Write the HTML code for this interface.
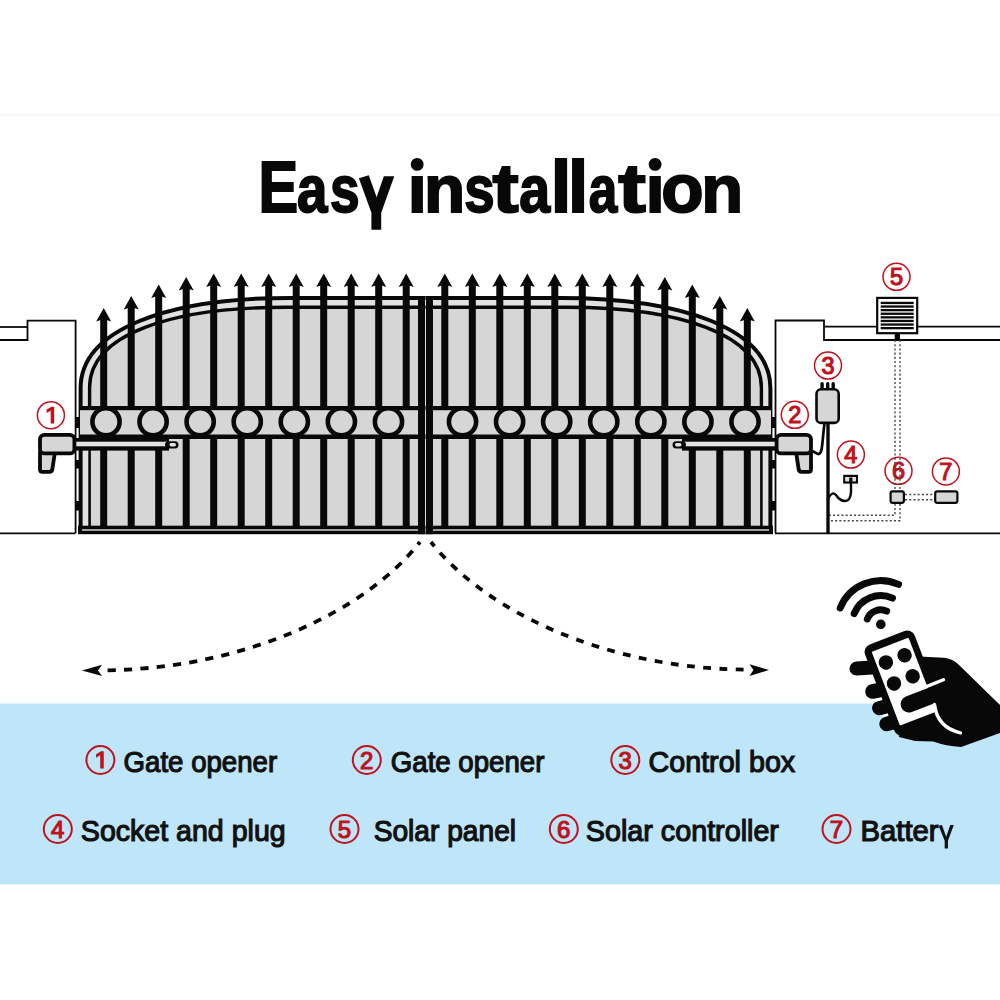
<!DOCTYPE html>
<html><head><meta charset="utf-8"><title>Easy installation</title>
<style>
html,body{margin:0;padding:0;background:#fff;}
body{width:1000px;height:1000px;overflow:hidden;font-family:"Liberation Sans", sans-serif;}
svg{display:block;}
</style></head>
<body>
<svg width="1000" height="1000" viewBox="0 0 1000 1000">
<rect x="0" y="703.5" width="1000" height="181" fill="#bee5f8"/>
<rect x="0" y="114" width="1000" height="1.5" fill="#f6f6f6"/>
<polyline points="0,340 27.5,340 27.5,320.6 75.6,320.6 75.6,533.3" fill="none" stroke="#080808" stroke-width="1.8"/>
<line x1="0" y1="327" x2="27.5" y2="327" stroke="#080808" stroke-width="1.8"/>
<line x1="0" y1="533.3" x2="75.5" y2="533.3" stroke="#080808" stroke-width="1.8"/>
<polyline points="775.5,533.3 775.5,320.5 824,320.5 824,340 1000,340" fill="none" stroke="#080808" stroke-width="1.8"/>
<line x1="824" y1="326.7" x2="1000" y2="326.7" stroke="#080808" stroke-width="1.8"/>
<line x1="775" y1="533.3" x2="1000" y2="533.3" stroke="#080808" stroke-width="1.8"/>
<g><path d="M80.6,534 L80.6,388.2 C80.6,329.4 167.7,297.9 290.7,297.9 L425.5,297.9 L425.5,534 Z" fill="#e2e2e2"/><path d="M89.6,534 L89.6,387.6 C89.6,334 172.4,307.3 284.5,307.3 L425.5,307.3 L425.5,534 Z" fill="#d6d6d6"/><rect x="80" y="441" width="10" height="90" fill="#e2e2e2"/><rect x="100.2" y="318" width="7" height="210" fill="#080808"/><polygon points="103.7,308 111.2,321.5 106.7,320 100.7,320 96.2,321.5" fill="#080808"/><rect x="127.7" y="306" width="7" height="222" fill="#080808"/><polygon points="131.2,296 138.7,309.5 134.2,308 128.2,308 123.7,309.5" fill="#080808"/><rect x="155.2" y="294.5" width="7" height="233.5" fill="#080808"/><polygon points="158.7,284.5 166.2,298 161.7,296.5 155.7,296.5 151.2,298" fill="#080808"/><rect x="182.7" y="287" width="7" height="241" fill="#080808"/><polygon points="186.2,277 193.7,290.5 189.2,289 183.2,289 178.7,290.5" fill="#080808"/><rect x="210.2" y="283.5" width="7" height="244.5" fill="#080808"/><polygon points="213.7,273.5 221.2,287 216.7,285.5 210.7,285.5 206.2,287" fill="#080808"/><rect x="237.7" y="283.5" width="7" height="244.5" fill="#080808"/><polygon points="241.2,273.5 248.7,287 244.2,285.5 238.2,285.5 233.7,287" fill="#080808"/><rect x="265.2" y="283.5" width="7" height="244.5" fill="#080808"/><polygon points="268.7,273.5 276.2,287 271.7,285.5 265.7,285.5 261.2,287" fill="#080808"/><rect x="292.7" y="283.5" width="7" height="244.5" fill="#080808"/><polygon points="296.2,273.5 303.7,287 299.2,285.5 293.2,285.5 288.7,287" fill="#080808"/><rect x="320.2" y="283.5" width="7" height="244.5" fill="#080808"/><polygon points="323.7,273.5 331.2,287 326.7,285.5 320.7,285.5 316.2,287" fill="#080808"/><rect x="347.7" y="283.5" width="7" height="244.5" fill="#080808"/><polygon points="351.2,273.5 358.7,287 354.2,285.5 348.2,285.5 343.7,287" fill="#080808"/><rect x="375.2" y="283.5" width="7" height="244.5" fill="#080808"/><polygon points="378.7,273.5 386.2,287 381.7,285.5 375.7,285.5 371.2,287" fill="#080808"/><rect x="402.7" y="283.5" width="7" height="244.5" fill="#080808"/><polygon points="406.2,273.5 413.7,287 409.2,285.5 403.2,285.5 398.7,287" fill="#080808"/><path d="M80.6,534 L80.6,388.2 C80.6,329.4 167.7,297.9 290.7,297.9 L425.5,297.9" fill="none" stroke="#080808" stroke-width="4"/><path d="M89.6,406 L89.6,387.6 C89.6,334 172.4,307.3 284.5,307.3 L425.5,307.3" fill="none" stroke="#080808" stroke-width="3.4"/><line x1="89.6" y1="440" x2="89.6" y2="527" stroke="#080808" stroke-width="2.6"/><rect x="80" y="406.5" width="345.5" height="32.5" fill="#d6d6d6"/><rect x="80" y="406" width="345.5" height="4.2" fill="#080808"/><rect x="80" y="434.5" width="345.5" height="4.5" fill="#080808"/><circle cx="106" cy="421.8" r="13.6" fill="#d6d6d6" stroke="#080808" stroke-width="4.6"/><circle cx="153.08" cy="421.8" r="13.6" fill="#d6d6d6" stroke="#080808" stroke-width="4.6"/><circle cx="200.16" cy="421.8" r="13.6" fill="#d6d6d6" stroke="#080808" stroke-width="4.6"/><circle cx="247.24" cy="421.8" r="13.6" fill="#d6d6d6" stroke="#080808" stroke-width="4.6"/><circle cx="294.32" cy="421.8" r="13.6" fill="#d6d6d6" stroke="#080808" stroke-width="4.6"/><circle cx="341.4" cy="421.8" r="13.6" fill="#d6d6d6" stroke="#080808" stroke-width="4.6"/><circle cx="388.48" cy="421.8" r="13.6" fill="#d6d6d6" stroke="#080808" stroke-width="4.6"/><rect x="78" y="525.7" width="347.5" height="8.5" fill="#080808"/><rect x="82" y="529.3" width="343.5" height="1.4" fill="#e2e2e2"/><rect x="418" y="296" width="7" height="238.2" fill="#080808"/><rect x="75" y="417" width="5" height="11" fill="#080808"/><rect x="75" y="460" width="5" height="8.5" fill="#080808"/><rect x="75" y="501" width="5" height="9.5" fill="#080808"/></g>
<g transform="translate(851,0) scale(-1,1)"><path d="M80.6,534 L80.6,388.2 C80.6,329.4 167.7,297.9 290.7,297.9 L425.5,297.9 L425.5,534 Z" fill="#e2e2e2"/><path d="M89.6,534 L89.6,387.6 C89.6,334 172.4,307.3 284.5,307.3 L425.5,307.3 L425.5,534 Z" fill="#d6d6d6"/><rect x="80" y="441" width="10" height="90" fill="#e2e2e2"/><rect x="100.2" y="318" width="7" height="210" fill="#080808"/><polygon points="103.7,308 111.2,321.5 106.7,320 100.7,320 96.2,321.5" fill="#080808"/><rect x="127.7" y="306" width="7" height="222" fill="#080808"/><polygon points="131.2,296 138.7,309.5 134.2,308 128.2,308 123.7,309.5" fill="#080808"/><rect x="155.2" y="294.5" width="7" height="233.5" fill="#080808"/><polygon points="158.7,284.5 166.2,298 161.7,296.5 155.7,296.5 151.2,298" fill="#080808"/><rect x="182.7" y="287" width="7" height="241" fill="#080808"/><polygon points="186.2,277 193.7,290.5 189.2,289 183.2,289 178.7,290.5" fill="#080808"/><rect x="210.2" y="283.5" width="7" height="244.5" fill="#080808"/><polygon points="213.7,273.5 221.2,287 216.7,285.5 210.7,285.5 206.2,287" fill="#080808"/><rect x="237.7" y="283.5" width="7" height="244.5" fill="#080808"/><polygon points="241.2,273.5 248.7,287 244.2,285.5 238.2,285.5 233.7,287" fill="#080808"/><rect x="265.2" y="283.5" width="7" height="244.5" fill="#080808"/><polygon points="268.7,273.5 276.2,287 271.7,285.5 265.7,285.5 261.2,287" fill="#080808"/><rect x="292.7" y="283.5" width="7" height="244.5" fill="#080808"/><polygon points="296.2,273.5 303.7,287 299.2,285.5 293.2,285.5 288.7,287" fill="#080808"/><rect x="320.2" y="283.5" width="7" height="244.5" fill="#080808"/><polygon points="323.7,273.5 331.2,287 326.7,285.5 320.7,285.5 316.2,287" fill="#080808"/><rect x="347.7" y="283.5" width="7" height="244.5" fill="#080808"/><polygon points="351.2,273.5 358.7,287 354.2,285.5 348.2,285.5 343.7,287" fill="#080808"/><rect x="375.2" y="283.5" width="7" height="244.5" fill="#080808"/><polygon points="378.7,273.5 386.2,287 381.7,285.5 375.7,285.5 371.2,287" fill="#080808"/><rect x="402.7" y="283.5" width="7" height="244.5" fill="#080808"/><polygon points="406.2,273.5 413.7,287 409.2,285.5 403.2,285.5 398.7,287" fill="#080808"/><path d="M80.6,534 L80.6,388.2 C80.6,329.4 167.7,297.9 290.7,297.9 L425.5,297.9" fill="none" stroke="#080808" stroke-width="4"/><path d="M89.6,406 L89.6,387.6 C89.6,334 172.4,307.3 284.5,307.3 L425.5,307.3" fill="none" stroke="#080808" stroke-width="3.4"/><line x1="89.6" y1="440" x2="89.6" y2="527" stroke="#080808" stroke-width="2.6"/><rect x="80" y="406.5" width="345.5" height="32.5" fill="#d6d6d6"/><rect x="80" y="406" width="345.5" height="4.2" fill="#080808"/><rect x="80" y="434.5" width="345.5" height="4.5" fill="#080808"/><circle cx="106" cy="421.8" r="13.6" fill="#d6d6d6" stroke="#080808" stroke-width="4.6"/><circle cx="153.08" cy="421.8" r="13.6" fill="#d6d6d6" stroke="#080808" stroke-width="4.6"/><circle cx="200.16" cy="421.8" r="13.6" fill="#d6d6d6" stroke="#080808" stroke-width="4.6"/><circle cx="247.24" cy="421.8" r="13.6" fill="#d6d6d6" stroke="#080808" stroke-width="4.6"/><circle cx="294.32" cy="421.8" r="13.6" fill="#d6d6d6" stroke="#080808" stroke-width="4.6"/><circle cx="341.4" cy="421.8" r="13.6" fill="#d6d6d6" stroke="#080808" stroke-width="4.6"/><circle cx="388.48" cy="421.8" r="13.6" fill="#d6d6d6" stroke="#080808" stroke-width="4.6"/><rect x="78" y="525.7" width="347.5" height="8.5" fill="#080808"/><rect x="82" y="529.3" width="343.5" height="1.4" fill="#e2e2e2"/><rect x="418" y="296" width="7" height="238.2" fill="#080808"/><rect x="75" y="417" width="5" height="11" fill="#080808"/><rect x="75" y="460" width="5" height="8.5" fill="#080808"/><rect x="75" y="501" width="5" height="9.5" fill="#080808"/></g>
<g><rect x="72" y="438" width="97" height="12.6" fill="#080808"/><rect x="74" y="441.7" width="93.5" height="4.6" fill="#e2e2e2"/><rect x="165" y="441.2" width="13.5" height="7.2" rx="3.6" fill="#080808"/><rect x="169.5" y="443" width="6.5" height="3.4" rx="1.7" fill="#e2e2e2"/><path d="M40,452 L40,469.5 Q40,471.8 42.5,471.8 L49.5,471.8 Q51.8,471.8 52.3,469.5 L54.5,455 L54.5,452 Z" fill="#d6d6d6" stroke="#080808" stroke-width="3.8" stroke-linejoin="round"/><rect x="40" y="434.8" width="34.4" height="18.6" rx="4.5" fill="#d6d6d6" stroke="#080808" stroke-width="3.8"/></g>
<g transform="translate(851,0) scale(-1,1)"><rect x="72" y="438" width="97" height="12.6" fill="#080808"/><rect x="74" y="441.7" width="93.5" height="4.6" fill="#e2e2e2"/><rect x="165" y="441.2" width="13.5" height="7.2" rx="3.6" fill="#080808"/><rect x="169.5" y="443" width="6.5" height="3.4" rx="1.7" fill="#e2e2e2"/><path d="M40,452 L40,469.5 Q40,471.8 42.5,471.8 L49.5,471.8 Q51.8,471.8 52.3,469.5 L54.5,455 L54.5,452 Z" fill="#d6d6d6" stroke="#080808" stroke-width="3.8" stroke-linejoin="round"/><rect x="40" y="434.8" width="34.4" height="18.6" rx="4.5" fill="#d6d6d6" stroke="#080808" stroke-width="3.8"/></g>
<circle cx="50.9" cy="415.2" r="13.5" fill="none" stroke="#c0121c" stroke-width="1.5"/><g transform="translate(50.9,423.6) scale(0.967)"><path d="M-0.2,0 L3.4,0 L3.4,-17.5 L0.6,-17.5 L-4.4,-14.6 L-4.4,-11 L-0.2,-13.4 Z" fill="#c0121c"/></g>
<circle cx="794.8" cy="414.8" r="13.5" fill="none" stroke="#c0121c" stroke-width="1.5"/><text x="794.8" y="423.2" font-family="Liberation Sans, sans-serif" font-weight="normal" font-size="23.5" fill="#c0121c" stroke="#c0121c" stroke-width="1.15" text-anchor="middle">2</text>
<circle cx="828" cy="365.6" r="13.5" fill="none" stroke="#c0121c" stroke-width="1.5"/><text x="828" y="374" font-family="Liberation Sans, sans-serif" font-weight="normal" font-size="23.5" fill="#c0121c" stroke="#c0121c" stroke-width="1.15" text-anchor="middle">3</text>
<circle cx="850.9" cy="454.6" r="13.5" fill="none" stroke="#c0121c" stroke-width="1.5"/><text x="850.9" y="463" font-family="Liberation Sans, sans-serif" font-weight="normal" font-size="23.5" fill="#c0121c" stroke="#c0121c" stroke-width="1.15" text-anchor="middle">4</text>
<circle cx="896.5" cy="276.8" r="13.5" fill="none" stroke="#c0121c" stroke-width="1.5"/><text x="896.5" y="285.2" font-family="Liberation Sans, sans-serif" font-weight="normal" font-size="23.5" fill="#c0121c" stroke="#c0121c" stroke-width="1.15" text-anchor="middle">5</text>
<circle cx="898.5" cy="470.8" r="13.5" fill="none" stroke="#c0121c" stroke-width="1.5"/><text x="898.5" y="479.2" font-family="Liberation Sans, sans-serif" font-weight="normal" font-size="23.5" fill="#c0121c" stroke="#c0121c" stroke-width="1.15" text-anchor="middle">6</text>
<circle cx="945.9" cy="471.4" r="13.5" fill="none" stroke="#c0121c" stroke-width="1.5"/><text x="945.9" y="479.8" font-family="Liberation Sans, sans-serif" font-weight="normal" font-size="23.5" fill="#c0121c" stroke="#c0121c" stroke-width="1.15" text-anchor="middle">7</text>
<path d="M895,340 L895,490.5 M895,503.7 L895,515.2 L829,515.2" fill="none" stroke="#4a4a4a" stroke-width="1.4" stroke-dasharray="2.1,2.1"/>
<path d="M900,340 L900,520.8 L829,520.8" fill="none" stroke="#4a4a4a" stroke-width="1.4" stroke-dasharray="2.1,2.1"/>
<path d="M905,494.5 L934,494.5 M905,499.8 L934,499.8" fill="none" stroke="#4a4a4a" stroke-width="1.4" stroke-dasharray="2.1,2.1"/>
<rect x="877.2" y="297.9" width="40" height="35.3" fill="#fff" stroke="#080808" stroke-width="2.2"/>
<rect x="880.7" y="301.8" width="33" height="2.3" fill="#080808"/>
<rect x="880.7" y="305.4" width="33" height="2.3" fill="#080808"/>
<rect x="880.7" y="309" width="33" height="2.3" fill="#080808"/>
<rect x="880.7" y="312.6" width="33" height="2.3" fill="#080808"/>
<rect x="880.7" y="316.2" width="33" height="2.3" fill="#080808"/>
<rect x="880.7" y="319.8" width="33" height="2.3" fill="#080808"/>
<rect x="880.7" y="323.4" width="33" height="2.3" fill="#080808"/>
<rect x="880.7" y="327" width="33" height="2.3" fill="#080808"/>
<rect x="894.7" y="334" width="5.3" height="6" fill="#080808"/>
<rect x="820.4" y="382" width="3.4" height="7.5" rx="1.7" fill="#080808"/><rect x="826" y="382" width="3.4" height="7.5" rx="1.7" fill="#080808"/><rect x="831.5" y="382" width="3.4" height="7.5" rx="1.7" fill="#080808"/>
<path d="M824.5,424 C822,440 823,455 818,454 L812,451" fill="none" stroke="#080808" stroke-width="2.7"/>
<rect x="816.5" y="389.3" width="22.2" height="33.6" rx="4.5" fill="#d6d6d6" stroke="#080808" stroke-width="2.6"/>
<line x1="828" y1="423" x2="828" y2="534" stroke="#080808" stroke-width="3.4"/>
<path d="M851,483 L851,492 Q850.5,501 845,501 Q840,501 836,495 Q832,491 828.5,498" fill="none" stroke="#080808" stroke-width="2.4"/>
<rect x="844.3" y="475.9" width="12.6" height="6.6" fill="#fff" stroke="#080808" stroke-width="2.2"/>
<rect x="845.5" y="477" width="10" height="4" fill="#e2e2e2"/>
<rect x="849.2" y="477.5" width="3.2" height="5" fill="#080808"/>
<rect x="890.6" y="491.4" width="13.3" height="11.4" rx="2" fill="#d6d6d6" stroke="#080808" stroke-width="2.2"/>
<rect x="935.2" y="491.4" width="22.2" height="11.4" rx="2" fill="#d6d6d6" stroke="#080808" stroke-width="2.2"/>
<path d="M107.6,670.3 C245,668 365,612 420,542" fill="none" stroke="#080808" stroke-width="3.8" stroke-dasharray="8.2,8.2"/>
<polygon points="82,670.4 102,664.8 98,670.4 102,676" fill="#080808"/>
<path d="M743.6,669.6 C606,668 486,612 431,542" fill="none" stroke="#080808" stroke-width="3.8" stroke-dasharray="7.8,8.5"/>
<polygon points="769,670.1 749.5,664.2 753.4,670.1 749.5,676" fill="#080808"/>
<circle cx="880.8" cy="624.4" r="4.8" fill="#080808"/><path d="M867.26,618.93 A14.6,14.6 0 0 1 886.74,611.06" fill="none" stroke="#080808" stroke-width="6.9" stroke-linecap="round"/><path d="M854.1,613.61 A28.8,28.8 0 0 1 892.51,598.09" fill="none" stroke="#080808" stroke-width="6.9" stroke-linecap="round"/><path d="M840.19,607.99 A43.8,43.8 0 0 1 898.62,584.39" fill="none" stroke="#080808" stroke-width="6.9" stroke-linecap="round"/><line x1="856.5" y1="668.5" x2="880" y2="667" stroke="#080808" stroke-width="14" stroke-linecap="round"/><line x1="872.5" y1="691.5" x2="890" y2="688" stroke="#080808" stroke-width="14.6" stroke-linecap="round"/><line x1="879.3" y1="708" x2="896" y2="704.5" stroke="#080808" stroke-width="14.4" stroke-linecap="round"/><line x1="886.5" y1="724" x2="902" y2="720" stroke="#080808" stroke-width="14.4" stroke-linecap="round"/><line x1="876" y1="700.6" x2="885" y2="697.2" stroke="#fff" stroke-width="2.2" stroke-linecap="round"/><line x1="882.5" y1="716.4" x2="891" y2="713" stroke="#fff" stroke-width="2.2" stroke-linecap="round"/><path d="M912,648 L919,656.5 L944,657.8 Q952,658.5 958,664 L1000,705 L1000,733 L961,747 Q946,746 933,741.5 L915,741 L899,737 Z" fill="#080808"/><g transform="translate(863.7,647.9) rotate(-21)"><rect x="-1.1" y="-1.1" width="53.2" height="97.5" rx="8" fill="#080808"/><rect x="6" y="6.5" width="39.5" height="79" rx="1" fill="#fff"/><circle cx="15.5" cy="21.5" r="7.2" fill="#080808"/><circle cx="35.5" cy="21.5" r="7.2" fill="#080808"/><circle cx="15.5" cy="44" r="7.2" fill="#080808"/><circle cx="35.5" cy="44" r="7.2" fill="#080808"/><line x1="40" y1="58.8" x2="63" y2="58.3" stroke="#fff" stroke-width="3.5" stroke-linecap="round"/><path d="M22,60.5 L70,60.5 L70,77 L22,77 A8.25,8.25 0 0 1 22,60.5 Z" fill="#080808"/></g><path d="M934.5,704.5 C936,718 944,729 960.5,732.8" fill="none" stroke="#fff" stroke-width="3.4" stroke-linecap="round"/>
<text transform="translate(258.45,211.79) scale(0.8381,1.0108)" x="0" y="0" font-family="Liberation Sans, sans-serif" font-weight="bold" font-size="71" fill="#080808" stroke="#080808" stroke-width="2">E</text><text transform="translate(296.93,211.64) scale(0.7700,0.9317)" x="0" y="0" font-family="Liberation Sans, sans-serif" font-weight="bold" font-size="71" fill="#080808" stroke="#080808" stroke-width="2">a</text><text transform="translate(329.95,211.64) scale(0.7514,0.9317)" x="0" y="0" font-family="Liberation Sans, sans-serif" font-weight="bold" font-size="71" fill="#080808" stroke="#080808" stroke-width="2">s</text><text transform="translate(424,211.66) scale(0.9500,0.9400)" x="0" y="0" font-family="Liberation Sans, sans-serif" font-weight="bold" font-size="71" fill="#080808" stroke="#080808" stroke-width="2">n</text><text transform="translate(464.13,211.64) scale(0.7703,0.9317)" x="0" y="0" font-family="Liberation Sans, sans-serif" font-weight="bold" font-size="71" fill="#080808" stroke="#080808" stroke-width="2">s</text><text transform="translate(492.4,211.58) scale(1.1083,0.9592)" x="0" y="0" font-family="Liberation Sans, sans-serif" font-weight="bold" font-size="71" fill="#080808" stroke="#080808" stroke-width="2">t</text><text transform="translate(519.22,211.64) scale(0.7825,0.9317)" x="0" y="0" font-family="Liberation Sans, sans-serif" font-weight="bold" font-size="71" fill="#080808" stroke="#080808" stroke-width="2">a</text><text transform="translate(550.83,211.58) scale(1.0417,1.0208)" x="0" y="0" font-family="Liberation Sans, sans-serif" font-weight="bold" font-size="71" fill="#080808" stroke="#080808" stroke-width="2">l</text><text transform="translate(568.1,211.58) scale(1.0250,1.0208)" x="0" y="0" font-family="Liberation Sans, sans-serif" font-weight="bold" font-size="71" fill="#080808" stroke="#080808" stroke-width="2">l</text><text transform="translate(588.68,211.64) scale(0.7225,0.9317)" x="0" y="0" font-family="Liberation Sans, sans-serif" font-weight="bold" font-size="71" fill="#080808" stroke="#080808" stroke-width="2">a</text><text transform="translate(618.3,211.58) scale(1.1667,0.9592)" x="0" y="0" font-family="Liberation Sans, sans-serif" font-weight="bold" font-size="71" fill="#080808" stroke="#080808" stroke-width="2">t</text><text transform="translate(661.34,211.79) scale(0.9775,0.9561)" x="0" y="0" font-family="Liberation Sans, sans-serif" font-weight="bold" font-size="71" fill="#080808" stroke="#080808" stroke-width="2">o</text><text transform="translate(701.13,211.66) scale(0.9667,0.9400)" x="0" y="0" font-family="Liberation Sans, sans-serif" font-weight="bold" font-size="71" fill="#080808" stroke="#080808" stroke-width="2">n</text><path d="M358.9,178.3 L368.78,175.3 L376.64,197.15 L383.82,176.28 L394.3,176.28 L381.2,212.85 L381.2,229.8 L371.4,229.8 L371.4,212.85 Z" fill="#080808"/><rect x="411.6" y="176" width="11.3" height="37" fill="#080808"/><circle cx="417.2" cy="164.4" r="6.4" fill="#080808"/><rect x="649.5" y="176" width="11.3" height="37" fill="#080808"/><circle cx="655.1" cy="164.4" r="6.4" fill="#080808"/>
<text transform="translate(123.58,772) scale(0.9211,1)" x="0" y="0" font-family="Liberation Sans, sans-serif" font-weight="normal" font-size="30" fill="#111" stroke="#111" stroke-width="1.2" letter-spacing="0">Gate opener</text><text transform="translate(390.78,772) scale(0.9211,1)" x="0" y="0" font-family="Liberation Sans, sans-serif" font-weight="normal" font-size="30" fill="#111" stroke="#111" stroke-width="1.2" letter-spacing="0">Gate opener</text><text transform="translate(648.54,772) scale(0.9562,1)" x="0" y="0" font-family="Liberation Sans, sans-serif" font-weight="normal" font-size="30" fill="#111" stroke="#111" stroke-width="1.2" letter-spacing="0">Control box</text><text transform="translate(80.85,840.7) scale(0.9521,1)" x="0" y="0" font-family="Liberation Sans, sans-serif" font-weight="normal" font-size="30" fill="#111" stroke="#111" stroke-width="1.2" letter-spacing="0">Socket and plug</text><text transform="translate(373.66,840.7) scale(0.9389,1)" x="0" y="0" font-family="Liberation Sans, sans-serif" font-weight="normal" font-size="30" fill="#111" stroke="#111" stroke-width="1.2" letter-spacing="0">Solar panel</text><text transform="translate(585.84,840.7) scale(0.9572,1)" x="0" y="0" font-family="Liberation Sans, sans-serif" font-weight="normal" font-size="30" fill="#111" stroke="#111" stroke-width="1.2" letter-spacing="0">Solar controller</text><text transform="translate(860.55,840.7) scale(0.9744,1)" x="0" y="0" font-family="Liberation Sans, sans-serif" font-weight="normal" font-size="30" fill="#111" stroke="#111" stroke-width="1.2" letter-spacing="0">Batter</text><circle cx="100.4" cy="760" r="14" fill="none" stroke="#c0121c" stroke-width="2"/><g transform="translate(100.4,768.6) scale(0.987)"><path d="M-0.2,0 L3.4,0 L3.4,-17.5 L0.6,-17.5 L-4.4,-14.6 L-4.4,-11 L-0.2,-13.4 Z" fill="#c0121c"/></g><circle cx="366.8" cy="760" r="14" fill="none" stroke="#c0121c" stroke-width="2"/><text x="366.8" y="768.6" font-family="Liberation Sans, sans-serif" font-weight="normal" font-size="24" fill="#c0121c" stroke="#c0121c" stroke-width="1.15" text-anchor="middle">2</text><circle cx="625.3" cy="760" r="14" fill="none" stroke="#c0121c" stroke-width="2"/><text x="625.3" y="768.6" font-family="Liberation Sans, sans-serif" font-weight="normal" font-size="24" fill="#c0121c" stroke="#c0121c" stroke-width="1.15" text-anchor="middle">3</text><circle cx="57.8" cy="829" r="14" fill="none" stroke="#c0121c" stroke-width="2"/><text x="57.8" y="837.6" font-family="Liberation Sans, sans-serif" font-weight="normal" font-size="24" fill="#c0121c" stroke="#c0121c" stroke-width="1.15" text-anchor="middle">4</text><circle cx="344.5" cy="829" r="14" fill="none" stroke="#c0121c" stroke-width="2"/><text x="344.5" y="837.6" font-family="Liberation Sans, sans-serif" font-weight="normal" font-size="24" fill="#c0121c" stroke="#c0121c" stroke-width="1.15" text-anchor="middle">5</text><circle cx="563.8" cy="829" r="14" fill="none" stroke="#c0121c" stroke-width="2"/><text x="563.8" y="837.6" font-family="Liberation Sans, sans-serif" font-weight="normal" font-size="24" fill="#c0121c" stroke="#c0121c" stroke-width="1.15" text-anchor="middle">6</text><circle cx="836.5" cy="829" r="14" fill="none" stroke="#c0121c" stroke-width="2"/><text x="836.5" y="837.6" font-family="Liberation Sans, sans-serif" font-weight="normal" font-size="24" fill="#c0121c" stroke="#c0121c" stroke-width="1.15" text-anchor="middle">7</text><path d="M938.6,825.71 L941.94,825 L946.2,836.8 L950.3,825 L953.8,825 L947.95,840.81 L947.95,848.6 L944.68,848.6 L944.68,840.81 Z" fill="#111"/>
</svg>
</body></html>
